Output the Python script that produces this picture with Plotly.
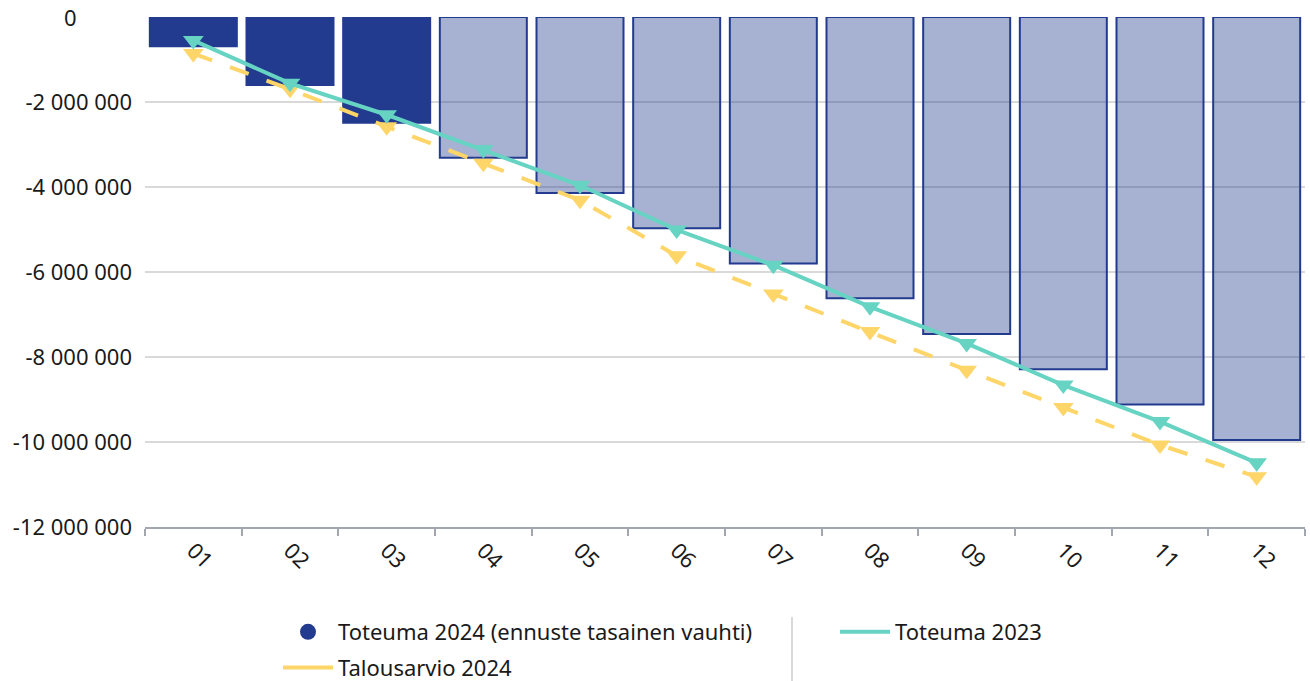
import plotly.graph_objects as go

months = ["01", "02", "03", "04", "05", "06", "07", "08", "09", "10", "11", "12"]
toteuma_2024 = [-690000, -1600000, -2490000, -3310000, -4140000, -4970000,
                -5800000, -6620000, -7460000, -8290000, -9120000, -9950000]
n_actual_months = 3
toteuma_2023 = [-550000, -1560000, -2300000, -3120000, -3960000, -5010000,
                -5840000, -6820000, -7680000, -8660000, -9520000, -10490000]
talousarvio_2024 = [-860000, -1700000, -2580000, -3440000, -4310000, -5620000,
                    -6520000, -7400000, -8310000, -9190000, -10070000, -10820000]
y_ticks = [0, -2000000, -4000000, -6000000, -8000000, -10000000, -12000000]
y_tick_labels = ["0", "-2 000 000", "-4 000 000", "-6 000 000", "-8 000 000",
                 "-10 000 000", "-12 000 000"]

NAVY = "#223B8F"
NAVY_LIGHT = "rgba(34,59,143,0.4)"
TEAL = "#66D3C3"
YELLOW = "#FDD568"
FONT = "Noto Sans"
TXT = "#1a1a1a"
FS = 22

bar_colors = [NAVY if i < n_actual_months else NAVY_LIGHT for i in range(len(months))]

fig = go.Figure()
fig.add_trace(go.Bar(
    x=months, y=toteuma_2024, marker=dict(color=bar_colors, line=dict(color=NAVY, width=2)),
    width=0.9, showlegend=False, name="Toteuma 2024 (ennuste tasainen vauhti)"))
fig.add_trace(go.Scatter(
    x=months, y=talousarvio_2024, mode="lines+markers", showlegend=False,
    line=dict(color=YELLOW, width=4, dash="20px,19px"),
    marker=dict(symbol="triangle-down", size=18, color=YELLOW), name="Talousarvio 2024"))
fig.add_trace(go.Scatter(
    x=months, y=toteuma_2023, mode="lines+markers", showlegend=False,
    line=dict(color=TEAL, width=4),
    marker=dict(symbol="triangle-down", size=18, color=TEAL), name="Toteuma 2023"))

# legend entries
fig.add_trace(go.Scatter(x=[None], y=[None], mode="markers", name="Toteuma 2024 (ennuste tasainen vauhti)",
                         marker=dict(symbol="circle", size=18, color=NAVY), legend="legend", legendgroup="a"))
fig.add_trace(go.Scatter(x=[None], y=[None], mode="lines", name="Talousarvio 2024",
                         line=dict(color=YELLOW, width=4), legend="legend", legendgroup="b"))
fig.add_trace(go.Scatter(x=[None], y=[None], mode="lines", name="Toteuma 2023",
                         line=dict(color=TEAL, width=4), legend="legend2", legendgroup="c"))

L, R, T, B = 145, 5, 17, 154
W, H = 1310, 681
pw, ph = W - L - R, H - T - B

def px_x(p):
    return (p - L) / pw

def px_y(p):
    return -(p - (H - B)) / ph

fig.update_layout(
    width=W, height=H, margin=dict(l=L, r=R, t=T, b=B, autoexpand=False),
    plot_bgcolor="white", paper_bgcolor="white",
    font=dict(family=FONT, size=FS, color=TXT),
    bargap=0.1,
    xaxis=dict(type="category", range=[-0.5, len(months) - 0.5], showgrid=False, showline=True,
               linecolor="#A2A6AE", linewidth=2,
               ticks="outside", tickson="boundaries", ticklen=7, tickwidth=2, tickcolor="#A2A6AE",
               tickangle=45, tickfont=dict(size=FS, color=TXT), automargin=False, fixedrange=True),
    yaxis=dict(range=[-12000000, 0], tickvals=y_ticks,
               ticktext=[("" if v == 0 else t) for v, t in zip(y_ticks, y_tick_labels)],
               showgrid=True, gridcolor="#D9D9D9", gridwidth=1.5, zeroline=False, automargin=False,
               showline=False, ticks="", ticklabelstandoff=12, tickfont=dict(size=FS, color=TXT)),
    legend=dict(orientation="v", x=px_x(278), xanchor="left", y=px_y(611), yanchor="top",
                traceorder="grouped", tracegroupgap=4, font=dict(size=FS, color=TXT),
                itemwidth=50, bgcolor="rgba(0,0,0,0)"),
    legend2=dict(orientation="v", x=px_x(835), xanchor="left", y=px_y(611), yanchor="top",
                 font=dict(size=FS, color=TXT), itemwidth=50, bgcolor="rgba(0,0,0,0)"),
    shapes=[dict(type="line", xref="paper", yref="paper", x0=px_x(792), x1=px_x(792),
                 y0=px_y(617), y1=px_y(681), line=dict(color="#CCCCCC", width=1.5))],
    annotations=[dict(text=y_tick_labels[0], xref="paper", yref="y", x=px_x(70), y=y_ticks[0],
                      xanchor="center", yanchor="middle", showarrow=False,
                      font=dict(size=FS, color=TXT))],
)

fig.write_html("out.html", config={"displayModeBar": False},
               post_script="document.body.style.margin='0';document.body.style.overflow='hidden';")
